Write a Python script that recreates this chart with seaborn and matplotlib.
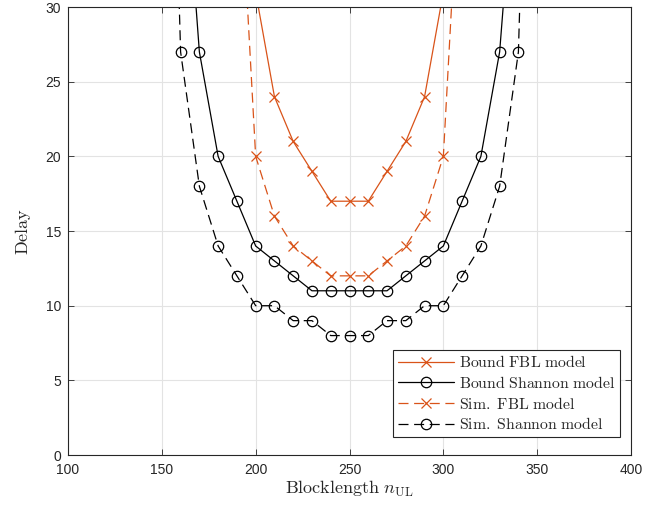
import matplotlib
matplotlib.use("Agg")
import matplotlib.pyplot as plt
import seaborn as sns

# Blocklength grid and delay values for each model
n_fbl = [200, 210, 220, 230, 240, 250, 260, 270, 280, 290, 300]
bound_fbl = [31, 24, 21, 19, 17, 17, 17, 19, 21, 24, 31]

n_sim_fbl = [190, 200, 210, 220, 230, 240, 250, 260, 270, 280, 290, 300, 310]
sim_fbl = [43, 20, 16, 14, 13, 12, 12, 12, 13, 14, 16, 20, 43]

n_shannon = [160, 170, 180, 190, 200, 210, 220, 230, 240, 250, 260, 270, 280,
             290, 300, 310, 320, 330, 340]
bound_shannon = [44, 27, 20, 17, 14, 13, 12, 11, 11, 11, 11, 11, 12, 13, 14,
                 17, 20, 27, 43]

n_sim_shannon = [150, 160, 170, 180, 190, 200, 210, 220, 230, 240, 250, 260,
                 270, 280, 290, 300, 310, 320, 330, 340, 350]
sim_shannon = [70, 27, 18, 14, 12, 10, 10, 9, 9, 8, 8, 8, 9, 9, 10, 10, 12,
               14, 18, 27, 70]

x_ticks = [100, 150, 200, 250, 300, 350, 400]
y_ticks = [0, 5, 10, 15, 20, 25, 30]

labels = [r"$\mathrm{Bound\ FBL\ model}$",
          r"$\mathrm{Bound\ Shannon\ model}$",
          r"$\mathrm{Sim.\ FBL\ model}$",
          r"$\mathrm{Sim.\ Shannon\ model}$"]

sns.set_style("whitegrid", {
    "axes.edgecolor": "#262626",
    "grid.color": "#e3e3e3",
    "xtick.direction": "in",
    "ytick.direction": "in",
    "xtick.bottom": True,
    "ytick.left": True,
    "xtick.top": True,
    "ytick.right": True,
})
plt.rcParams["font.family"] = ["Liberation Sans", "DejaVu Sans"]
plt.rcParams["mathtext.fontset"] = "cm"

orange = "#D95319"
black = "#000000"
dash = (0, (8, 4.5))

fig = plt.figure(figsize=(6.70, 5.08), dpi=100)
ax = fig.add_axes([0.1015, 0.1043, 0.8403, 0.8817])

common = dict(linewidth=0.9, markersize=7.5, markeredgewidth=0.9)

sns.lineplot(x=n_fbl, y=bound_fbl, ax=ax, color=orange, marker="x",
             markeredgecolor=orange, label=labels[0], **common)
sns.lineplot(x=n_shannon, y=bound_shannon, ax=ax, color=black, marker="o",
             markerfacecolor="none", markeredgecolor=black,
             label=labels[1], **common)
sns.lineplot(x=n_sim_fbl, y=sim_fbl, ax=ax, color=orange, marker="x",
             markeredgecolor=orange, linestyle=dash, label=labels[2], **common)
sns.lineplot(x=n_sim_shannon, y=sim_shannon, ax=ax, color=black, marker="o",
             markerfacecolor="none", markeredgecolor=black, linestyle=dash,
             label=labels[3], **common)

ax.set_xlim(100, 400)
ax.set_ylim(0, 30)
ax.set_xticks(x_ticks)
ax.set_yticks(y_ticks)
ax.tick_params(axis="both", which="both", length=4, width=0.6,
               color="#262626", labelsize=10, labelcolor="#262626")
ax.tick_params(axis="x", pad=6)
ax.tick_params(axis="y", pad=5)
for s in ax.spines.values():
    s.set_linewidth(0.8)
    s.set_color("#262626")
ax.grid(True, color="#e3e3e3", linewidth=0.8)

ax.set_xlabel(r"$\mathrm{Blocklength}\ n_{\mathrm{UL}}$", fontsize=13,
              color="#262626", labelpad=1)
ax.set_ylabel(r"$\mathrm{Delay}$", fontsize=13, color="#262626", labelpad=9)

leg = ax.legend(loc="lower right", fontsize=11.3, frameon=True,
                fancybox=False, framealpha=1, edgecolor="#262626",
                borderpad=0.3, labelspacing=0.3, handlelength=3.6,
                handletextpad=0.3, borderaxespad=0.0,
                bbox_to_anchor=(0.98, 0.04))
leg.get_frame().set_linewidth(0.8)

fig.savefig("out.png", dpi=100)
